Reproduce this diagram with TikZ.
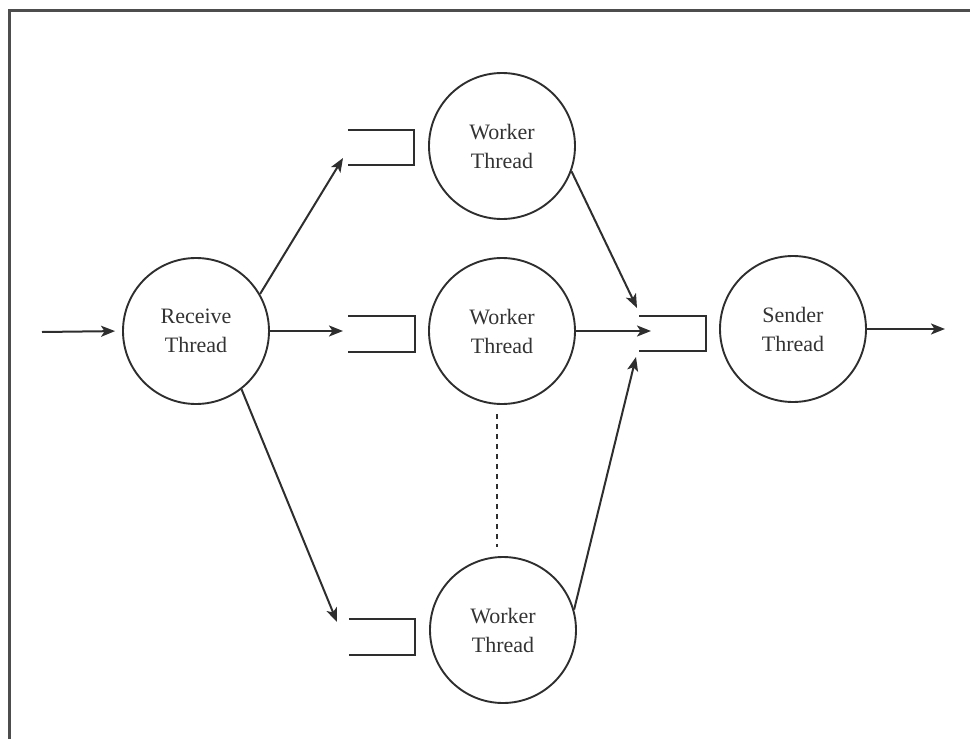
\documentclass[tikz,border=0pt]{standalone}
\usepackage{fontspec}
\setmainfont{Liberation Serif}
\usetikzlibrary{arrows.meta}
\definecolor{ink}{HTML}{2E2E2E}
\definecolor{txt}{HTML}{333333}
\tikzset{
  thread/.style={circle, draw=ink, line width=1.9pt, minimum size=146pt, inner sep=0pt,
    align=center, text=txt, font=\fontsize{22}{29}\selectfont},
  queue/.style={rectangle, minimum width=66pt, minimum height=35pt, inner sep=0pt},
  qline/.style={draw=ink, line width=2.2pt},
  flow/.style={draw=ink, line width=2pt, -{Stealth[length=14pt,width=11pt,inset=3.5pt]}},
  frame/.style={draw=ink!85, line width=3pt},
  ellipsis/.style={draw=ink, line width=2.2pt, dash pattern=on 5pt off 5pt}
}
\begin{document}
\begin{tikzpicture}[x=1pt, y=-1pt]
  \useasboundingbox (0,0) rectangle (970,739);
  % page frame, top and left edges
  \draw[frame] (9,739) -- (9,10) -- (970,10);

  % threads
  \node[thread] (recv) at (196,331) {Receive\\Thread};
  \node[thread] (w1) at (502,146) {Worker\\Thread};
  \node[thread] (w2) at (502,331) {Worker\\Thread};
  \node[thread] (w3) at (503,630) {Worker\\Thread};
  \node[thread] (send) at (793,329) {Sender\\Thread};

  % queues (open on the left)
  \node[queue] (q1) at (381,147.5) {};
  \node[queue] (q2) at (381.5,334) {};
  \node[queue] (q3) at (382,637) {};
  \node[queue] (qs) at (672.5,333.5) {};
  \foreach \q in {q1,q2,q3,qs}
    \draw[qline] (\q.north west) -- (\q.north east) -- (\q.south east) -- (\q.south west);

  % arrow end points
  \coordinate (in) at (42,332);
  \coordinate (out) at (945,329);
  \coordinate (t1) at (343,158);
  \coordinate (t2) at (343,331);
  \coordinate (t3) at (337,622);
  \coordinate (s1) at (637,308);
  \coordinate (s2) at (651,331);
  \coordinate (s3) at (636,357);

  % flows
  \draw[flow, shorten >=7pt] (in) -- (recv.west);
  \draw[flow] (recv.30) -- (t1);
  \draw[flow] (recv.east) -- (t2);
  \draw[flow] (recv.-52) -- (t3);
  \draw[flow] (w1.-20) -- (s1);
  \draw[flow] (w2.east) -- (s2);
  \draw[flow] (w3.16) -- (s3);
  \draw[flow] (send.east) -- (out);

  % more workers in between
  \draw[ellipsis] (w2.south -| 497,0) ++(0,9) -- (497,547);
\end{tikzpicture}
\end{document}
